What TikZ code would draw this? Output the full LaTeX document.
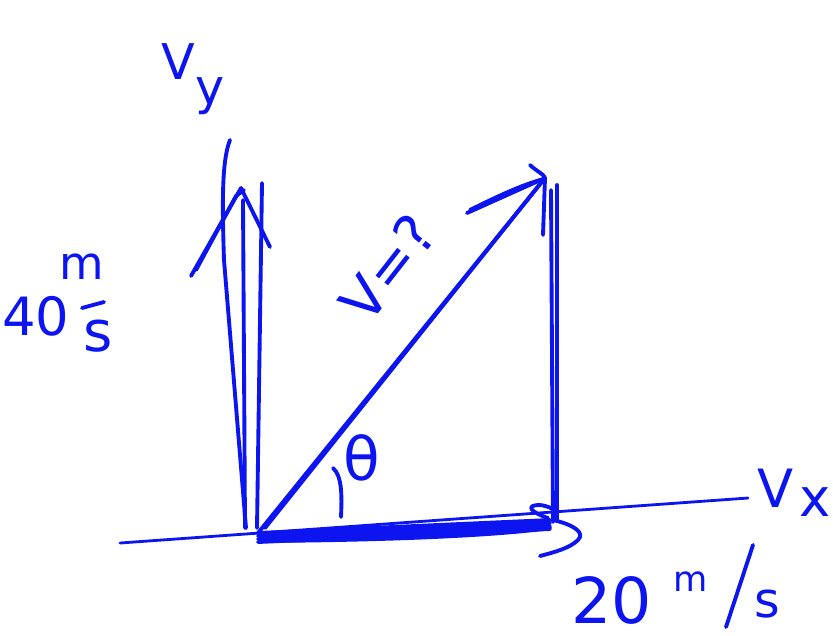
\documentclass[tikz,border=0pt]{standalone}
\usepackage{fontspec}
\setmainfont{DejaVu Sans}
\usetikzlibrary{calc}
\definecolor{ink}{RGB}{12,20,240}
\begin{document}
\begin{tikzpicture}[x=0.01cm,y=-0.01cm,
  pen/.style={draw=ink,line width=1.1pt,line cap=round,line join=round},
  thinpen/.style={draw=ink,line width=0.8pt,line cap=round,line join=round},
  lbl/.style={text=ink,inner sep=0pt}]
\useasboundingbox (0,0) rectangle (833,635);
% key points
\coordinate (O) at (258,533);
\coordinate (T) at (241,188);
\coordinate (D) at (545,178);
\coordinate (R) at (553,522);
\coordinate (A) at (120,543);
\coordinate (E) at (748,498);
% horizontal axis
\draw[thinpen] (A) -- (E);
% vertical arrow strokes
\draw[pen] (230,140) .. controls (222,160) and (222,200) .. (224,260) -- (246,528);
\draw[pen] (243,200) -- (245,528);
\draw[pen] (262,183) -- (257,528);
\draw[pen] (191,276) -- (T) -- (270,247);
\draw[pen] (196,270) -- (236,196) -- (244,190);
% diagonal arrow
\draw[pen] (O) -- (D);
\draw[pen] (265,528) -- (540,184);
\draw[pen] (467,213) -- (D);
\draw[pen] (470,210) .. controls (500,195) and (520,186) .. (540,180);
\draw[pen] (530,165) .. controls (535,170) and (545,175) .. (D) -- (543,235);
% right vertical side
\draw[pen] (551,190) -- (R);
\draw[pen] (557,185) -- (557,520);
% bottom thick side
\foreach \d in {0,3,6,9}
  \draw[pen] ($(O)+(0,\d)$) -- ($(R)+(-3,\d-2)$);
\draw[pen] (262,541) .. controls (400,540) and (500,535) .. (550,528);
% hook at the corner
\draw[pen] (548,518) .. controls (530,512) and (525,505) .. (540,505) .. controls (555,507) and (558,513) .. (553,520);
\draw[pen] (553,520) .. controls (575,525) and (585,533) .. (578,540) .. controls (570,548) and (555,552) .. (540,556);
% angle mark
\draw[pen] (333,468) .. controls (342,476) and (342,495) .. (341,517);
% labels
\node[lbl,font=\fontsize{14}{14}\selectfont] (vyV) at (178,62) {V};
\node[lbl,font=\fontsize{14}{14}\selectfont] (vyy) at (210,96) {y};
\node[lbl,font=\fontsize{15}{15}\selectfont] (vxV) at (776,488) {V};
\node[lbl,font=\fontsize{15}{15}\selectfont] (vxx) at (815,502) {x};
\node[lbl,font=\fontsize{16}{16}\selectfont,rotate=52] (v) at (388,268) {V=?};
\node[lbl,font=\fontsize{17}{17}\selectfont] (th) at (362,458) {θ};
\node[lbl,font=\fontsize{15}{15}\selectfont] (n40) at (36,316) {40};
\node[lbl,font=\fontsize{13}{13}\selectfont] (m40) at (82,267) {m};
\draw[pen] (82,308) -- (104,302);
\node[lbl,font=\fontsize{16}{16}\selectfont] (s40) at (98,336) {s};
\node[lbl,font=\fontsize{18}{18}\selectfont] (n20) at (612,600) {20};
\node[lbl,font=\fontsize{10}{10}\selectfont] (m20) at (691,582) {m};
\draw[pen] (753,545) -- (726,627);
\node[lbl,font=\fontsize{14}{14}\selectfont] (s20) at (767,604) {s};
\end{tikzpicture}
\end{document}
